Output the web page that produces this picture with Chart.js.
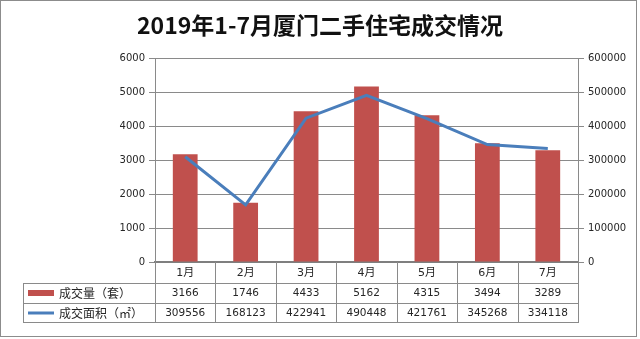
<!DOCTYPE html>
<html>
<head>
<meta charset="utf-8">
<title>2019年1-7月厦门二手住宅成交情况</title>
<script src="https://cdn.jsdelivr.net/npm/chart.js@4.4.0/dist/chart.umd.min.js"></script>
<style>
  html, body { margin: 0; padding: 0; background: #fff; }
  #wrap { width: 640px; height: 339px; position: relative; }
</style>
</head>
<body>
<div id="wrap"><canvas id="tradeChart"></canvas></div>
<script>
const months = ['1月', '2月', '3月', '4月', '5月', '6月', '7月'];
const volumes = [3166, 1746, 4433, 5162, 4315, 3494, 3289];          // 成交量（套）
const areas = [309556, 168123, 422941, 490448, 421761, 345268, 334118]; // 成交面积（㎡）
const leftTicks = [0, 1000, 2000, 3000, 4000, 5000, 6000];
const rightTicks = [0, 100000, 200000, 300000, 400000, 500000, 600000];

const BAR_RED = '#C0504D';
const LINE_BLUE = '#4A7EBB';
const GRID = '#8a8a8a';
const TEXT = '#262626';
const NUM_FONT = '"DejaVu Sans", "Noto Sans CJK SC", sans-serif';

// data table under the plot, laid out on the category scale
const dataTable = {
  id: 'dataTable',
  afterDraw(chart) {
    const ctx = chart.ctx;
    const area = chart.chartArea;
    const x = chart.scales.x;
    const step = (area.right - area.left) / months.length;
    const rowA = area.bottom + 21, rowB = rowA + 20, rowC = rowB + 19;
    const legendLeft = 23;

    ctx.save();
    ctx.strokeStyle = GRID;
    ctx.lineWidth = 1;
    ctx.beginPath();
    for (let i = 0; i <= months.length; i++) {
      const px = Math.round(area.left + i * step) + 0.5;
      ctx.moveTo(px, area.bottom);
      ctx.lineTo(px, rowC);
    }
    ctx.moveTo(legendLeft + 0.5, rowA);
    ctx.lineTo(legendLeft + 0.5, rowC);
    [rowA, rowB, rowC].forEach(y => {
      ctx.moveTo(legendLeft, y + 0.5);
      ctx.lineTo(area.right + 1, y + 0.5);
    });
    ctx.stroke();

    ctx.fillStyle = TEXT;
    ctx.textAlign = 'center';
    ctx.textBaseline = 'middle';
    ctx.font = '11px ' + NUM_FONT;
    months.forEach((m, i) => {
      const cx = x.getPixelForValue(i);
      ctx.fillText(m, cx, area.bottom + 11);
    });
    ctx.font = '10.5px ' + NUM_FONT;
    volumes.forEach((v, i) => ctx.fillText(String(v), x.getPixelForValue(i), rowA + 10));
    areas.forEach((v, i) => ctx.fillText(String(v), x.getPixelForValue(i), rowB + 10));

    // legend keys
    ctx.fillStyle = BAR_RED;
    ctx.fillRect(28, rowA + 7, 26, 6);
    ctx.strokeStyle = LINE_BLUE;
    ctx.lineWidth = 3;
    ctx.beginPath();
    ctx.moveTo(28, rowB + 10);
    ctx.lineTo(54, rowB + 10);
    ctx.stroke();

    ctx.fillStyle = TEXT;
    ctx.textAlign = 'left';
    ctx.font = '12px "Noto Sans CJK SC", sans-serif';
    ctx.fillText('成交量（套）', 59, rowA + 10);
    ctx.fillText('成交面积（㎡）', 59, rowB + 10);

    // outer frame
    ctx.strokeStyle = '#8c8c8c';
    ctx.lineWidth = 1;
    ctx.strokeRect(0.5, 0.5, 636, 336);
    ctx.restore();
  }
};

new Chart(document.getElementById('tradeChart'), {
  data: {
    labels: months,
    datasets: [
      {
        type: 'line',
        label: '成交面积（㎡）',
        data: areas,
        yAxisID: 'y1',
        borderColor: LINE_BLUE,
        borderWidth: 3,
        pointRadius: 0,
        tension: 0,
        order: 0
      },
      {
        type: 'bar',
        label: '成交量（套）',
        data: volumes,
        yAxisID: 'y',
        backgroundColor: BAR_RED,
        categoryPercentage: 1,
        barPercentage: 0.41,
        order: 1
      }
    ]
  },
  options: {
    responsive: true,
    maintainAspectRatio: false,
    animation: false,
    layout: { padding: 0 },
    plugins: {
      legend: { display: false },
      tooltip: { enabled: false },
      title: {
        display: true,
        text: '2019年1-7月厦门二手住宅成交情况',
        color: '#111',
        font: { family: '"Noto Sans CJK SC", sans-serif', size: 23, weight: 'bold', lineHeight: 1.2 },
        padding: { top: 11, bottom: 19.4 }
      }
    },
    scales: {
      x: {
        ticks: { display: false },
        grid: { display: false },
        border: { color: '#7f7f7f', width: 2 },
        afterFit(scale) { scale.height = 77; }
      },
      y: {
        position: 'left',
        min: 0,
        max: 6000,
        afterBuildTicks(scale) { scale.ticks = leftTicks.map(v => ({ value: v })); },
        ticks: { color: TEXT, padding: 4, font: { family: NUM_FONT, size: 10 }, callback: v => String(v) },
        grid: { color: GRID, tickLength: 6 },
        border: { color: GRID },
        afterFit(scale) { scale.width = 155; }
      },
      y1: {
        position: 'right',
        min: 0,
        max: 600000,
        afterBuildTicks(scale) { scale.ticks = rightTicks.map(v => ({ value: v })); },
        ticks: { color: TEXT, padding: 4, font: { family: NUM_FONT, size: 10 }, callback: v => String(v) },
        grid: { drawOnChartArea: false, color: GRID, tickLength: 6 },
        border: { color: GRID },
        afterFit(scale) { scale.width = 62; }
      }
    }
  },
  plugins: [dataTable]
});
</script>
</body>
</html>
